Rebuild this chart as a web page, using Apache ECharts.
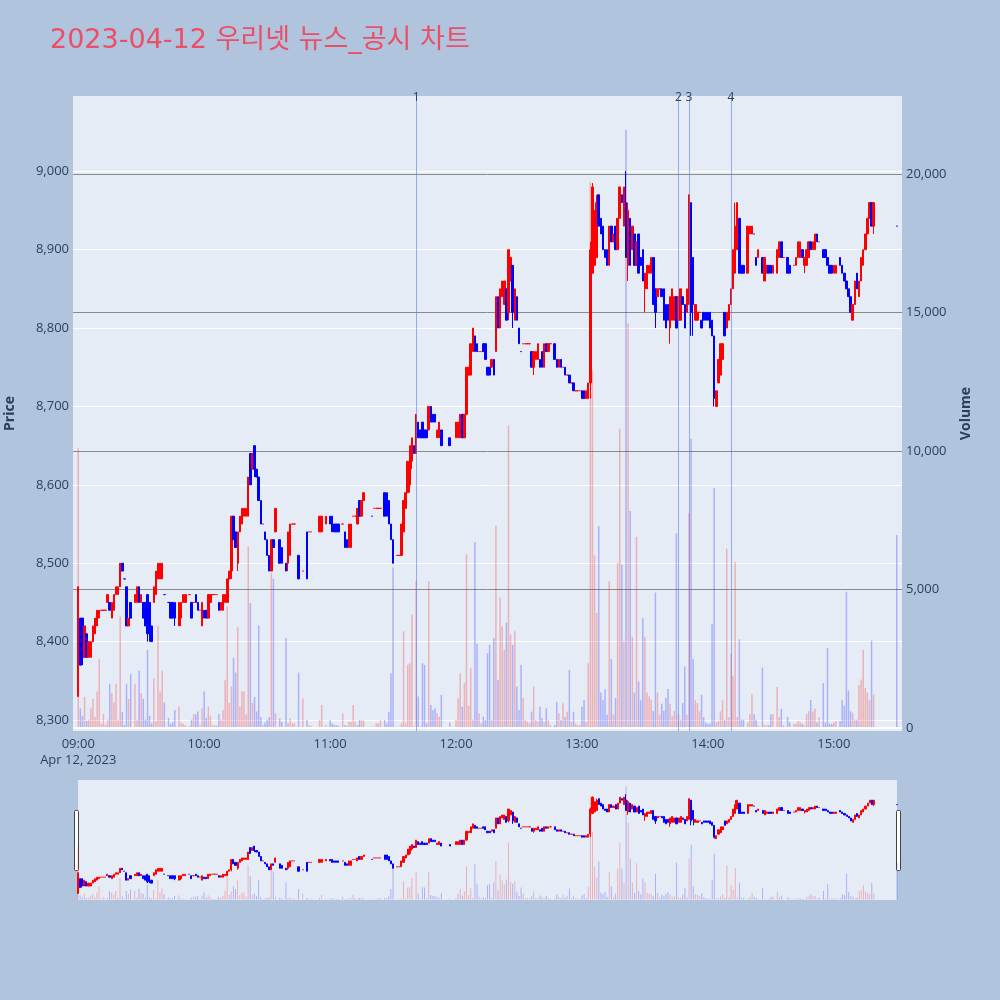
<!DOCTYPE html>
<html><head><meta charset="utf-8">
<script src="https://cdn.jsdelivr.net/npm/echarts@6/dist/echarts.min.js"></script>
<style>html,body{margin:0;padding:0;background:#B0C4DE;}#chart{width:1000px;height:1000px;}</style>
</head><body><div id="chart"></div>
<script>
// [time, open, close, low, high, volume]
const h09 = [
["09:00",8330,8470,8330,8470,10100],["09:01",8430,8370,8370,8430,710],["09:02",8430,8380,8370,8430,440],
["09:03",8380,8420,8380,8420,1120],["09:04",8410,8380,8380,8410,260],["09:05",8380,8400,8380,8400,300],
["09:06",8380,8400,8380,8400,710],["09:07",8400,8420,8400,8420,1050],["09:08",8410,8430,8410,8430,400],
["09:09",8420,8440,8420,8440,1320],["09:10",8430,8440,8430,8440,2480],["09:11",8440,8440,8440,8440,150],
["09:12",8440,8440,8440,8440,510],["09:13",8440,8440,8440,8440,120],["09:14",8450,8460,8450,8460,300],
["09:15",8450,8440,8440,8450,1600],["09:16",8430,8450,8430,8450,1260],["09:17",8440,8460,8440,8460,920],
["09:18",8460,8470,8460,8470,1600],["09:19",8460,8470,8460,8470,300],["09:20",8470,8500,8470,8500,4030],
["09:21",8500,8490,8490,8500,580],["09:22",8480,8480,8480,8480,100],["09:23",8470,8420,8420,8470,1600],
["09:24",8420,8430,8420,8430,1050],["09:25",8450,8430,8430,8450,1940],["09:27",8450,8460,8450,8460,1600],
["09:28",8450,8470,8450,8470,300],["09:29",8470,8450,8450,8470,2070],["09:30",8450,8460,8450,8460,1260],
["09:31",8450,8430,8430,8450,1050],["09:32",8450,8420,8420,8450,300],["09:33",8460,8410,8400,8460,2820],
["09:34",8450,8410,8400,8450,440],["09:35",8420,8400,8400,8420,170],["09:36",8450,8470,8450,8470,1800],
["09:37",8460,8490,8460,8490,240],["09:38",8480,8500,8480,8500,3700],["09:39",8480,8500,8480,8500,1320],
["09:40",8480,8500,8480,8500,2070],["09:41",8460,8460,8460,8460,920],["09:43",8450,8450,8450,8450,370],
["09:44",8450,8430,8430,8450,150],["09:45",8450,8430,8430,8450,200],["09:46",8450,8430,8420,8450,650],
["09:48",8420,8450,8420,8450,780],["09:49",8430,8450,8420,8450,200],["09:50",8450,8460,8450,8460,150],
["09:51",8450,8460,8450,8460,100],["09:53",8460,8460,8460,8460,80],["09:54",8450,8430,8430,8450,300],
["09:55",8450,8450,8450,8450,500],["09:56",8460,8450,8450,8460,500],["09:57",8450,8440,8440,8450,600],
["09:58",8440,8440,8440,8440,100],["09:59",8420,8450,8420,8450,700]
];
const h10 = [
["10:00",8440,8430,8430,8440,1320],["10:01",8440,8430,8430,8440,370],["10:02",8430,8460,8430,8460,780],
["10:03",8450,8460,8450,8460,450],["10:04",8460,8460,8460,8460,100],["10:05",8460,8460,8460,8460,100],
["10:06",8460,8460,8460,8460,80],["10:07",8450,8440,8440,8450,510],["10:08",8440,8450,8440,8450,300],
["10:09",8440,8460,8440,8460,650],["10:10",8450,8460,8450,8460,1730],["10:11",8450,8480,8450,8480,4380],
["10:12",8480,8490,8480,8490,900],["10:13",8490,8560,8480,8560,1500],["10:14",8560,8530,8530,8560,2540],
["10:15",8540,8520,8520,8540,2000],["10:16",8500,8540,8490,8540,3640],["10:17",8540,8560,8540,8560,780],
["10:18",8550,8570,8550,8570,1320],["10:19",8560,8570,8560,8570,1320],["10:20",8560,8570,8560,8570,500],
["10:21",8560,8610,8560,8610,6550],["10:22",8640,8600,8600,8640,4510],["10:23",8620,8640,8620,8640,900],
["10:24",8650,8620,8610,8650,1120],["10:25",8620,8610,8610,8620,600],["10:26",8610,8580,8580,8610,3700],
["10:27",8580,8550,8550,8580,400],["10:28",8550,8550,8550,8550,100],["10:29",8540,8530,8530,8540,200],
["10:30",8530,8510,8510,8530,300],["10:31",8510,8490,8490,8510,400],["10:32",8490,8530,8490,8530,5590],
["10:33",8530,8520,8520,8530,5390],["10:34",8540,8570,8540,8570,530],["10:36",8530,8500,8500,8530,350],
["10:37",8520,8500,8500,8520,230],["10:39",8500,8490,8490,8500,3250],["10:40",8500,8540,8490,8540,170],
["10:41",8510,8550,8510,8550,350],["10:42",8550,8550,8550,8550,170],["10:43",8550,8550,8550,8550,170],
["10:45",8510,8480,8480,8510,2000],["10:47",8490,8490,8490,8490,1075],["10:49",8540,8480,8480,8540,290],
["10:50",8540,8540,8540,8540,100],["10:51",8540,8540,8540,8540,80],["10:55",8540,8560,8540,8560,290],
["10:56",8540,8560,8540,8560,830],["10:58",8550,8560,8550,8560,110]
];
const h11 = [
["11:00",8560,8550,8550,8560,290],["11:01",8560,8540,8540,8560,170],["11:02",8550,8540,8540,8550,110],
["11:03",8550,8540,8540,8550,100],["11:04",8550,8540,8540,8550,80],["11:06",8550,8550,8550,8550,530],
["11:07",8540,8520,8520,8540,100],["11:08",8530,8520,8520,8530,80],["11:09",8520,8550,8520,8550,230],
["11:10",8520,8550,8520,8550,230],["11:11",8560,8560,8560,8560,830],["11:12",8560,8560,8560,8560,230],
["11:13",8550,8570,8550,8570,110],["11:14",8580,8560,8560,8580,290],["11:15",8560,8580,8560,8580,290],
["11:16",8580,8590,8580,8590,270],["11:20",8560,8560,8560,8560,50],["11:21",8570,8570,8570,8570,50],
["11:22",8570,8570,8570,8570,170],["11:23",8570,8570,8570,8570,170],["11:24",8570,8570,8570,8570,290],
["11:26",8590,8560,8560,8590,290],["11:27",8590,8560,8560,8590,170],["11:28",8580,8550,8550,8580,590],
["11:29",8550,8530,8530,8550,1980],["11:30",8530,8500,8500,8530,5790],["11:32",8510,8510,8510,8510,50],
["11:33",8510,8510,8510,8510,50],["11:34",8510,8550,8510,8550,170],["11:35",8540,8580,8540,8580,3490],
["11:36",8570,8590,8570,8590,170],["11:37",8590,8630,8590,8630,2280],["11:38",8600,8650,8590,8650,2340],
["11:39",8630,8660,8620,8660,4100],["11:40",8650,8640,8640,8650,50],["11:41",8640,8690,8640,8690,5300],
["11:42",8680,8660,8660,8680,1140],["11:43",8670,8660,8660,8670,50],["11:44",8680,8660,8660,8680,2340],
["11:45",8670,8660,8660,8670,2280],["11:46",8670,8660,8660,8670,170],["11:47",8670,8700,8670,8700,5300],
["11:48",8700,8680,8680,8700,830],["11:49",8690,8680,8680,8690,650],["11:50",8690,8680,8680,8690,710],
["11:51",8660,8670,8660,8670,530],["11:52",8660,8680,8660,8680,410],["11:53",8670,8650,8650,8670,1200],
["11:57",8660,8650,8650,8660,200]
];
const h12 = [
["12:00",8660,8680,8660,8680,300],["12:01",8660,8680,8660,8680,1075],["12:02",8660,8690,8660,8690,1980],
["12:03",8690,8660,8660,8690,770],["12:04",8660,8690,8660,8690,1620],["12:05",8690,8750,8690,8750,6270],
["12:06",8740,8750,8740,8750,800],["12:07",8740,8780,8740,8780,2160],["12:08",8770,8800,8770,8800,300],
["12:09",8790,8770,8770,8790,6716],["12:10",8780,8770,8770,8780,3040],["12:11",8770,8770,8770,8770,530],
["12:12",8770,8770,8770,8770,170],["12:13",8780,8770,8770,8780,410],["12:14",8780,8760,8760,8780,290],
["12:15",8750,8740,8740,8750,2700],["12:16",8750,8740,8740,8750,3000],["12:17",8750,8760,8750,8760,290],
["12:18",8760,8740,8740,8760,3250],["12:19",8770,8840,8770,8840,7300],["12:20",8840,8800,8800,8840,1740],
["12:21",8800,8850,8800,8850,4700],["12:22",8840,8860,8840,8860,3670],["12:23",8830,8860,8830,8860,2830],
["12:24",8850,8810,8810,8850,3800],["12:25",8820,8900,8810,8900,10920],["12:26",8860,8890,8860,8890,3380],
["12:27",8880,8820,8800,8880,3000],["12:28",8810,8850,8810,8850,3490],["12:29",8840,8810,8810,8840,1500],
["12:30",8800,8780,8780,8800,650],["12:31",8770,8770,8770,8770,2280],["12:32",8780,8780,8780,8780,1080],
["12:33",8780,8780,8780,8780,290],["12:34",8780,8780,8780,8780,230],["12:35",8780,8780,8780,8780,170],
["12:36",8770,8750,8750,8770,590],["12:37",8750,8770,8740,8770,1500],["12:38",8760,8770,8760,8770,290],
["12:39",8760,8780,8760,8780,230],["12:40",8760,8750,8750,8760,770],["12:41",8770,8750,8750,8770,350],
["12:42",8750,8780,8750,8780,230],["12:43",8780,8770,8770,8780,710],["12:44",8770,8780,8770,8780,290],
["12:45",8780,8780,8780,8780,110],["12:47",8780,8760,8760,8780,110],["12:48",8760,8750,8750,8760,950],
["12:49",8750,8760,8750,8760,530],["12:50",8760,8750,8750,8760,290],["12:51",8750,8750,8750,8750,890],
["12:52",8750,8740,8740,8750,410],["12:53",8740,8740,8740,8740,590],["12:54",8740,8730,8730,8740,2100],
["12:55",8730,8730,8730,8730,230],["12:56",8730,8720,8720,8730,590],["12:57",8720,8720,8720,8720,170],
["12:58",8720,8720,8720,8720,110],["12:59",8720,8720,8720,8720,110]
];
const h13 = [
["13:00",8720,8710,8710,8720,770],["13:01",8720,8710,8710,8720,1010],["13:02",8710,8720,8710,8720,230],
["13:03",8710,8730,8710,8730,2340],["13:04",8730,8900,8710,8910,19700],["13:05",8870,8980,8870,8985,12900],
["13:06",8880,8950,8880,8950,6230],["13:07",8890,8960,8890,8970,4160],["13:08",8970,8930,8930,8970,7300],
["13:09",8940,8920,8920,8940,1280],["13:10",8930,8900,8900,8930,1000],["13:11",8900,8890,8890,8900,1400],
["13:12",8900,8880,8880,8900,480],["13:13",8880,8930,8880,8930,5300],["13:14",8930,8910,8910,8930,2490],
["13:15",8910,8920,8910,8920,480],["13:16",8930,8900,8900,8930,1080],["13:17",8900,8940,8900,8940,5960],
["13:18",8940,8980,8940,8980,10800],["13:19",8970,8960,8960,8970,5900],["13:20",8930,8980,8930,8980,3150],
["13:21",8960,8890,8890,9000,21600],["13:22",8880,8950,8860,8960,14600],["13:23",8940,8880,8880,8940,7830],
["13:24",8900,8930,8900,8930,3290],["13:25",8920,8880,8880,8920,1280],["13:26",8880,8910,8880,8910,6900],
["13:27",8920,8870,8870,8920,1680],["13:28",8890,8880,8880,8890,1000],["13:29",8900,8860,8860,8900,3960],
["13:30",8850,8870,8820,8870,3290],["13:31",8850,8880,8850,8880,1280],["13:32",8870,8880,8870,8880,1150],
["13:33",8870,8890,8870,8890,1020],["13:34",8890,8830,8830,8890,610],["13:35",8850,8820,8800,8850,4890],
["13:36",8840,8850,8840,8850,1280],["13:37",8850,8850,8850,8850,480],["13:38",8850,8840,8840,8850,880],
["13:39",8850,8810,8810,8850,610],["13:40",8830,8800,8800,8830,1080],["13:41",8830,8810,8810,8830,1410],
["13:42",8800,8840,8780,8840,880],["13:43",8810,8850,8810,8850,420],["13:44",8810,8840,8810,8840,610],
["13:45",8840,8800,8800,8840,7030],["13:46",8810,8840,8810,8840,480],["13:47",8810,8850,8810,8850,300],
["13:48",8840,8830,8830,8840,900],["13:49",8830,8800,8800,8830,2220],["13:50",8820,8850,8820,8850,480],
["13:51",8830,8970,8830,8970,7770],["13:52",8960,8820,8790,8960,10440],["13:53",8890,8830,8790,8890,2490],
["13:54",8810,8830,8810,8830,1000],["13:55",8810,8820,8810,8820,900],["13:56",8820,8820,8820,8820,600],
["13:57",8810,8800,8800,8810,1200],["13:58",8820,8810,8810,8820,400],["13:59",8820,8810,8810,8820,200]
];
const h14 = [
["14:00",8820,8810,8810,8820,150],["14:01",8820,8800,8800,8820,150],["14:02",8810,8790,8790,8810,3760],
["14:03",8790,8710,8700,8790,8660],["14:04",8700,8720,8700,8720,200],["14:05",8730,8760,8730,8760,250],
["14:06",8740,8780,8740,8780,600],["14:07",8760,8780,8760,8780,1000],["14:08",8820,8790,8790,8820,300],
["14:09",8800,8820,8800,8820,6470],["14:10",8810,8830,8810,8830,400],["14:11",8830,8850,8830,8850,2690],
["14:12",8850,8900,8850,8900,1890],["14:13",8870,8930,8870,8960,6000],["14:14",8900,8960,8900,8960,400],
["14:15",8940,8870,8870,8940,3200],["14:16",8880,8870,8870,8880,300],["14:17",8880,8870,8870,8880,300],
["14:19",8870,8930,8870,8930,200],["14:20",8920,8930,8920,8930,500],["14:21",8920,8930,8920,8930,1220],
["14:22",8920,8920,8920,8920,500],["14:23",8890,8880,8880,8890,300],["14:24",8890,8900,8890,8900,100],
["14:26",8890,8870,8870,8890,2180],["14:27",8860,8890,8860,8890,100],["14:28",8870,8880,8870,8880,100],
["14:29",8880,8870,8870,8880,100],["14:30",8880,8870,8870,8880,500],["14:31",8870,8880,8870,8880,500],
["14:33",8870,8900,8870,8900,1480],["14:34",8890,8910,8890,8910,400],["14:35",8910,8890,8890,8910,700],
["14:36",8890,8890,8890,8890,100],["14:38",8890,8870,8870,8890,400],["14:39",8880,8870,8870,8880,200],
["14:41",8880,8880,8880,8880,150],["14:42",8880,8890,8880,8890,150],["14:43",8890,8910,8890,8910,250],
["14:44",8890,8910,8890,8910,200],["14:45",8900,8890,8890,8900,150],["14:46",8880,8890,8870,8890,100],
["14:47",8880,8900,8880,8900,500],["14:48",8890,8910,8890,8910,600],["14:49",8910,8900,8900,8910,1010],
["14:50",8900,8910,8900,8910,600],["14:51",8900,8920,8900,8920,700],["14:52",8920,8910,8910,8920,200],
["14:53",8910,8910,8910,8910,400],["14:55",8900,8890,8890,8900,1620],["14:56",8900,8890,8890,8900,200],
["14:57",8890,8880,8880,8890,2890],["14:58",8880,8870,8870,8880,150],["14:59",8880,8870,8870,8880,150]
];
const h15 = [
["15:00",8870,8880,8870,8880,200],["15:01",8870,8880,8870,8880,250],["15:03",8890,8880,8880,8890,250],
["15:04",8880,8870,8870,8880,1000],["15:05",8870,8860,8860,8870,800],["15:06",8860,8850,8850,8860,4920],
["15:07",8850,8840,8840,8850,1350],["15:08",8840,8820,8820,8840,600],["15:09",8810,8830,8810,8830,550],
["15:10",8830,8860,8830,8860,300],["15:11",8870,8850,8850,8870,300],["15:12",8840,8860,8840,8860,1550],
["15:13",8860,8890,8860,8890,1750],["15:14",8880,8900,8880,8900,2820],["15:15",8900,8920,8900,8920,1450],
["15:16",8920,8940,8920,8940,1280],["15:17",8940,8960,8940,8960,1000],["15:18",8960,8930,8930,8960,3160],
["15:19",8930,8960,8920,8960,1200],["15:30",8930,8930,8930,8930,6970]
];
const xTickLabels = ["09:00","10:00","11:00","12:00","13:00","14:00","15:00"];
const newsTimes = ["11:40:57","13:45:42","13:51:24","14:10:30"];
const newsLabels = ["1","2","3","4"];

const UP = '#FF0000', DOWN = '#0000FF';
const UPV = 'rgba(255,0,0,0.25)', DOWNV = 'rgba(0,0,255,0.25)';
const rows = [].concat(h09, h10, h11, h12, h13, h14, h15);
const pad = n => (n < 10 ? '0' : '') + n;
const fmtMin = t => pad(Math.floor(t / 60)) + ':' + pad(t % 60);
const dir = new Map();
let prevClose = null;
rows.forEach(r => {
  let up;
  if (r[2] > r[1]) up = true; else if (r[2] < r[1]) up = false;
  else up = prevClose === null ? true : r[2] >= prevClose;
  dir.set(r[0], up); prevClose = r[2];
});
const byTime = new Map(rows.map(r => [r[0], r]));
function buildCats(a, b) { const c = []; for (let t = a; t <= b; t++) c.push(fmtMin(t)); return c; }
const mainCats = buildCats(8 * 60 + 58, 15 * 60 + 32);
const miniCats = buildCats(9 * 60, 15 * 60 + 30);
function candleData(cats) {
  return cats.map(c => {
    const r = byTime.get(c);
    if (!r) return ['-', '-', '-', '-'];
    const col = dir.get(c) ? UP : DOWN;
    return { value: [r[1], r[2], r[3], r[4]], itemStyle: { color: col, color0: col, borderColor: col, borderColor0: col } };
  });
}
function volData(cats) {
  return cats.map(c => {
    const r = byTime.get(c);
    if (!r) return '-';
    return { value: r[5], itemStyle: { color: dir.get(c) ? UPV : DOWNV } };
  });
}
const catIndex = (cats, hhmmss) => {
  const p = hhmmss.split(':').map(Number);
  const t = p[0] * 60 + p[1];
  return cats.indexOf(fmtMin(t)) + p[2] / 60;
};
const comma = v => Math.round(v).toLocaleString('en-US');
const PMIN = 8286, PMAX = 9096, VMIN = -108, VMAX = 22816;
const txt = '#2a3f5f';

const chart = echarts.init(document.getElementById('chart'), null, { renderer: 'canvas' });
chart.setOption({
  animation: false,
  backgroundColor: '#B0C4DE',
  textStyle: { fontFamily: "'Open Sans', sans-serif" },
  title: {
    text: '2023-04-12 우리넷 뉴스_공시 차트', left: 45, top: 22,
    textStyle: { color: '#EB4F66', fontSize: 27, fontWeight: 'normal', fontFamily: "'DejaVu Sans', 'Noto Sans CJK KR', sans-serif" }
  },
  grid: [
    { left: 73, right: 98, top: 96, bottom: 269, show: true, backgroundColor: '#E5ECF6', borderWidth: 0,
      containLabel: false, outerBoundsMode: 'none' },
    { left: 78, right: 103, top: 780, bottom: 100, show: true, backgroundColor: '#E5ECF6', borderWidth: 0,
      containLabel: false, outerBoundsMode: 'none' }
  ],
  xAxis: [
    { type: 'category', gridIndex: 0, data: mainCats, boundaryGap: true,
      axisLine: { show: false }, axisTick: { show: false }, splitLine: { show: false },
      axisLabel: { interval: (i, v) => xTickLabels.includes(v), color: txt, fontSize: 13, margin: 5, lineHeight: 16,
        formatter: v => v === '09:00' ? '09:00\nApr 12, 2023' : v } },
    { type: 'category', gridIndex: 1, data: miniCats, boundaryGap: false,
      axisLine: { show: false }, axisTick: { show: false }, axisLabel: { show: false }, splitLine: { show: false } }
  ],
  yAxis: [
    { type: 'value', gridIndex: 0, position: 'left', min: PMIN, max: PMAX, splitNumber: 8,
      name: 'Price', nameLocation: 'middle', nameRotate: 90, nameGap: 56,
      nameTextStyle: { color: txt, fontWeight: 'bold', fontSize: 14 },
      axisLine: { show: false }, axisTick: { show: false },
      axisLabel: { color: txt, fontSize: 13, margin: 4, showMinLabel: false, showMaxLabel: false, formatter: comma },
      splitLine: { show: true, showMinLine: false, showMaxLine: false, lineStyle: { color: '#ffffff', width: 1 } } },
    { type: 'value', gridIndex: 0, position: 'right', min: VMIN, max: VMAX, splitNumber: 5,
      name: 'Volume', nameLocation: 'middle', nameRotate: 90, nameGap: 57,
      nameTextStyle: { color: txt, fontWeight: 'bold', fontSize: 14 },
      axisLine: { show: false }, axisTick: { show: false },
      axisLabel: { color: txt, fontSize: 13, margin: 4, showMinLabel: false, showMaxLabel: false, formatter: comma },
      splitLine: { show: true, showMinLine: false, showMaxLine: false, lineStyle: { color: '#8a8a8a', width: 1 } } },
    { type: 'value', gridIndex: 1, min: PMIN, max: PMAX, show: false, splitLine: { show: false } },
    { type: 'value', gridIndex: 1, min: VMIN, max: VMAX, show: false, splitLine: { show: false } }
  ],
  series: [
    { name: 'vol', type: 'bar', xAxisIndex: 0, yAxisIndex: 1, data: volData(mainCats), barWidth: 1.5, z: 2,
      markLine: { silent: true, symbol: 'none', label: { show: false },
        lineStyle: { color: '#ffffff', width: 2, type: 'solid' }, data: [{ yAxis: 0 }] } },
    { name: 'price', type: 'candlestick', xAxisIndex: 0, yAxisIndex: 0, data: candleData(mainCats),
      barWidth: 2, itemStyle: { borderWidth: 1 }, z: 3,
      markLine: { silent: true, symbol: 'none', animation: false,
        lineStyle: { color: 'rgba(90,125,235,0.6)', width: 1, type: 'solid' },
        label: { show: true, position: 'end', distance: -8, color: txt, fontSize: 12 },
        data: newsTimes.map((t, i) => ({ xAxis: catIndex(mainCats, t), label: { formatter: newsLabels[i] } })) } },
    { name: 'mvol', type: 'bar', xAxisIndex: 1, yAxisIndex: 3, data: volData(miniCats), barWidth: 1, z: 2 },
    { name: 'mprice', type: 'candlestick', xAxisIndex: 1, yAxisIndex: 2, data: candleData(miniCats),
      barWidth: 1.6, itemStyle: { borderWidth: 1 }, z: 3 }
  ],
  graphic: [
    { type: 'rect', left: 74, top: 810, shape: { width: 4, height: 60, r: 1 }, style: { fill: '#ffffff', stroke: '#444444', lineWidth: 1 } },
    { type: 'rect', left: 896, top: 810, shape: { width: 4, height: 60, r: 1 }, style: { fill: '#ffffff', stroke: '#444444', lineWidth: 1 } }
  ]
});
</script>
</body></html>
